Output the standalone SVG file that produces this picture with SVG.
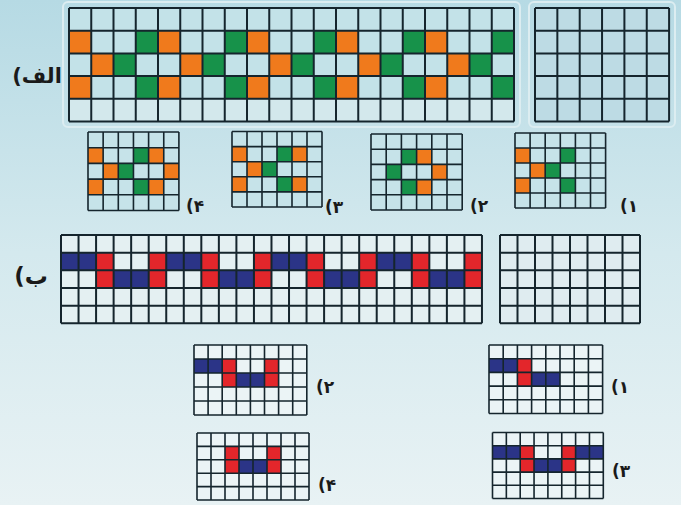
<svg xmlns="http://www.w3.org/2000/svg" width="681" height="505" viewBox="0 0 681 505">
<style>
.o{fill:#f07a1c}.g{fill:#17924a}.b{fill:#2b3487}.r{fill:#e3262b}
.la{fill:#c3e2e8}.lb{fill:#e4f0f2}.ls{fill:#c6e3e9}.lw{fill:#ebf4f6}
.gp{fill:none;stroke:#15252d;vector-effect:non-scaling-stroke}
.ln{stroke-width:2}
.ln2{stroke-width:1.6}
.lab{font-family:"DejaVu Sans","Noto Sans",sans-serif;font-weight:bold;fill:#1a1a1a;text-anchor:middle;direction:rtl}
</style>
<defs>
<linearGradient id="bg" x1="0" y1="0" x2="0" y2="1">
<stop offset="0" stop-color="#b6dae4"/><stop offset="0.5" stop-color="#d4e9ee"/><stop offset="1" stop-color="#e8f2f4"/>
</linearGradient>
<path id="g20" class="gp" vector-effect="non-scaling-stroke" d="M0 0H20M0 1H20M0 2H20M0 3H20M0 4H20M0 5H20M0 0V5M1 0V5M2 0V5M3 0V5M4 0V5M5 0V5M6 0V5M7 0V5M8 0V5M9 0V5M10 0V5M11 0V5M12 0V5M13 0V5M14 0V5M15 0V5M16 0V5M17 0V5M18 0V5M19 0V5M20 0V5"/>
<path id="g24" class="gp" vector-effect="non-scaling-stroke" d="M0 0H24M0 1H24M0 2H24M0 3H24M0 4H24M0 5H24M0 0V5M1 0V5M2 0V5M3 0V5M4 0V5M5 0V5M6 0V5M7 0V5M8 0V5M9 0V5M10 0V5M11 0V5M12 0V5M13 0V5M14 0V5M15 0V5M16 0V5M17 0V5M18 0V5M19 0V5M20 0V5M21 0V5M22 0V5M23 0V5M24 0V5"/>
<path id="g6" class="gp" vector-effect="non-scaling-stroke" d="M0 0H6M0 1H6M0 2H6M0 3H6M0 4H6M0 5H6M0 0V5M1 0V5M2 0V5M3 0V5M4 0V5M5 0V5M6 0V5"/>
<path id="g8" class="gp" vector-effect="non-scaling-stroke" d="M0 0H8M0 1H8M0 2H8M0 3H8M0 4H8M0 5H8M0 0V5M1 0V5M2 0V5M3 0V5M4 0V5M5 0V5M6 0V5M7 0V5M8 0V5"/>
</defs>
<rect width="681" height="505" fill="url(#bg)"/>
<rect x="63" y="2" width="457" height="125" rx="5" fill="none" stroke="#dcedf1" stroke-width="2"/>
<rect x="529" y="2" width="146" height="125" rx="5" fill="none" stroke="#dcedf1" stroke-width="2"/>

<g id="gridA">
<g transform="translate(69,8) scale(22.25,22.7)">
<rect width="20" height="5" class="la"/>
<rect y="4" width="20" height="1" fill="#d3e8ec"/>
<rect x="0" y="1" width="1" height="1" class="o"/><rect x="4" y="1" width="1" height="1" class="o"/><rect x="8" y="1" width="1" height="1" class="o"/><rect x="12" y="1" width="1" height="1" class="o"/><rect x="16" y="1" width="1" height="1" class="o"/>
<rect x="3" y="1" width="1" height="1" class="g"/><rect x="7" y="1" width="1" height="1" class="g"/><rect x="11" y="1" width="1" height="1" class="g"/><rect x="15" y="1" width="1" height="1" class="g"/><rect x="19" y="1" width="1" height="1" class="g"/>
<rect x="1" y="2" width="1" height="1" class="o"/><rect x="5" y="2" width="1" height="1" class="o"/><rect x="9" y="2" width="1" height="1" class="o"/><rect x="13" y="2" width="1" height="1" class="o"/><rect x="17" y="2" width="1" height="1" class="o"/>
<rect x="2" y="2" width="1" height="1" class="g"/><rect x="6" y="2" width="1" height="1" class="g"/><rect x="10" y="2" width="1" height="1" class="g"/><rect x="14" y="2" width="1" height="1" class="g"/><rect x="18" y="2" width="1" height="1" class="g"/>
<rect x="0" y="3" width="1" height="1" class="o"/><rect x="4" y="3" width="1" height="1" class="o"/><rect x="8" y="3" width="1" height="1" class="o"/><rect x="12" y="3" width="1" height="1" class="o"/><rect x="16" y="3" width="1" height="1" class="o"/>
<rect x="3" y="3" width="1" height="1" class="g"/><rect x="7" y="3" width="1" height="1" class="g"/><rect x="11" y="3" width="1" height="1" class="g"/><rect x="15" y="3" width="1" height="1" class="g"/><rect x="19" y="3" width="1" height="1" class="g"/>
<use href="#g20" class="ln"/>
</g>
</g>
<g id="gridA-empty">
<g transform="translate(535,8) scale(22.35,22.7)">
<rect width="6" height="5" fill="#bddbe4"/>
<use href="#g6" class="ln"/>
</g>
</g>
<text id="labelA" class="lab" x="37" y="83" font-size="21">الف)</text>

<g id="optA4">
<g transform="translate(88,132) scale(15.15,15.7)">
<rect width="6" height="5" class="ls"/>
<rect x="0" y="1" width="1" height="1" class="o"/><rect x="3" y="1" width="1" height="1" class="g"/><rect x="4" y="1" width="1" height="1" class="o"/>
<rect x="1" y="2" width="1" height="1" class="o"/><rect x="2" y="2" width="1" height="1" class="g"/><rect x="5" y="2" width="1" height="1" class="o"/>
<rect x="0" y="3" width="1" height="1" class="o"/><rect x="3" y="3" width="1" height="1" class="g"/><rect x="4" y="3" width="1" height="1" class="o"/>
<use href="#g6" class="ln2"/>
</g>
<text class="lab" x="195" y="212" font-size="17">۴)</text>
</g>
<g id="optA3">
<g transform="translate(232,131.5) scale(15,15.1)">
<rect width="6" height="5" class="ls"/>
<rect x="0" y="1" width="1" height="1" class="o"/><rect x="3" y="1" width="1" height="1" class="g"/><rect x="4" y="1" width="1" height="1" class="o"/>
<rect x="1" y="2" width="1" height="1" class="o"/><rect x="2" y="2" width="1" height="1" class="g"/>
<rect x="0" y="3" width="1" height="1" class="o"/><rect x="3" y="3" width="1" height="1" class="g"/><rect x="4" y="3" width="1" height="1" class="o"/>
<use href="#g6" class="ln2"/>
</g>
<text class="lab" x="334" y="213" font-size="17">۳)</text>
</g>
<g id="optA2">
<g transform="translate(371,134) scale(15.2,15.2)">
<rect width="6" height="5" class="ls"/>
<rect x="2" y="1" width="1" height="1" class="g"/><rect x="3" y="1" width="1" height="1" class="o"/>
<rect x="1" y="2" width="1" height="1" class="g"/><rect x="4" y="2" width="1" height="1" class="o"/>
<rect x="2" y="3" width="1" height="1" class="g"/><rect x="3" y="3" width="1" height="1" class="o"/>
<use href="#g6" class="ln2"/>
</g>
<text class="lab" x="479" y="212" font-size="17">۲)</text>
</g>
<g id="optA1">
<g transform="translate(515,133) scale(15.1,15)">
<rect width="6" height="5" class="ls"/>
<rect x="0" y="1" width="1" height="1" class="o"/><rect x="3" y="1" width="1" height="1" class="g"/>
<rect x="1" y="2" width="1" height="1" class="o"/><rect x="2" y="2" width="1" height="1" class="g"/>
<rect x="0" y="3" width="1" height="1" class="o"/><rect x="3" y="3" width="1" height="1" class="g"/>
<use href="#g6" class="ln2"/>
</g>
<text class="lab" x="629" y="212" font-size="17">۱)</text>
</g>

<g id="gridB">
<g transform="translate(61,235) scale(17.54,17.66)">
<rect width="24" height="5" class="lb"/>
<rect x="0" y="1" width="2" height="1" class="b"/><rect x="6" y="1" width="2" height="1" class="b"/><rect x="12" y="1" width="2" height="1" class="b"/><rect x="18" y="1" width="2" height="1" class="b"/>
<rect x="3" y="2" width="2" height="1" class="b"/><rect x="9" y="2" width="2" height="1" class="b"/><rect x="15" y="2" width="2" height="1" class="b"/><rect x="21" y="2" width="2" height="1" class="b"/>
<rect x="2" y="1" width="1" height="2" class="r"/><rect x="5" y="1" width="1" height="2" class="r"/><rect x="8" y="1" width="1" height="2" class="r"/><rect x="11" y="1" width="1" height="2" class="r"/><rect x="14" y="1" width="1" height="2" class="r"/><rect x="17" y="1" width="1" height="2" class="r"/><rect x="20" y="1" width="1" height="2" class="r"/><rect x="23" y="1" width="1" height="2" class="r"/>
<use href="#g24" class="ln"/>
</g>
</g>
<g id="gridB-empty">
<g transform="translate(500,235) scale(17.5,17.66)">
<rect width="8" height="5" fill="#dfecf0"/>
<use href="#g8" class="ln"/>
</g>
</g>
<text id="labelB" class="lab" x="31" y="284" font-size="23">ب)</text>

<g id="optB2">
<g transform="translate(194,345) scale(14.1,14)">
<rect width="8" height="5" class="lw"/>
<rect x="0" y="1" width="2" height="1" class="b"/><rect x="3" y="2" width="2" height="1" class="b"/>
<rect x="2" y="1" width="1" height="2" class="r"/><rect x="5" y="1" width="1" height="2" class="r"/>
<use href="#g8" class="ln2"/>
</g>
<text class="lab" x="325" y="393" font-size="17">۲)</text>
</g>
<g id="optB4">
<g transform="translate(197,433) scale(14,13.4)">
<rect width="8" height="5" class="lw"/>
<rect x="3" y="2" width="2" height="1" class="b"/>
<rect x="2" y="1" width="1" height="2" class="r"/><rect x="5" y="1" width="1" height="2" class="r"/>
<use href="#g8" class="ln2"/>
</g>
<text class="lab" x="327" y="491" font-size="17">۴)</text>
</g>
<g id="optB1">
<g transform="translate(489,345) scale(14.2,13.7)">
<rect width="8" height="5" class="lw"/>
<rect x="0" y="1" width="2" height="1" class="b"/><rect x="3" y="2" width="2" height="1" class="b"/>
<rect x="2" y="1" width="1" height="2" class="r"/>
<use href="#g8" class="ln2"/>
</g>
<text class="lab" x="620" y="393" font-size="17">۱)</text>
</g>
<g id="optB3">
<g transform="translate(492.5,432.5) scale(13.85,13.2)">
<rect width="8" height="5" class="lw"/>
<rect x="0" y="1" width="2" height="1" class="b"/><rect x="6" y="1" width="2" height="1" class="b"/><rect x="3" y="2" width="2" height="1" class="b"/>
<rect x="2" y="1" width="1" height="2" class="r"/><rect x="5" y="1" width="1" height="2" class="r"/>
<use href="#g8" class="ln2"/>
</g>
<text class="lab" x="621" y="477" font-size="17">۳)</text>
</g>
</svg>
